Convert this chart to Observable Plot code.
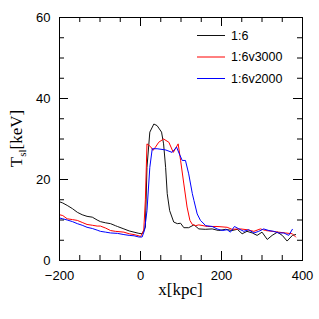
<!DOCTYPE html>
<html>
<head>
<meta charset="utf-8">
<script src="https://cdn.jsdelivr.net/npm/d3@7"></script>
<script src="https://cdn.jsdelivr.net/npm/@observablehq/plot@0.6"></script>
<style>
  html, body { margin: 0; padding: 0; background: white; }
  #chart { width: 319px; height: 319px; }
</style>
</head>
<body>
<div id="chart"></div>
<script>
// ---- data ----
const seriesNames = ["1:6", "1:6v3000", "1:6v2000"];
const seriesColors = ["#111111", "#ff0000", "#0000ff"];

const xBlack = [-200,-192,-181,-168,-156,-144,-132,-119,-107,-99,-86,-74,-62,-57,-41,-28,-16,-4,4,12,16,23,33,41,52,57,62,66,72,82,91,99,107,119,132,144,160,177,193,210,226,239,251,263,276,288,300,313,325,338,350,362,375,383];
const tBlack = [14.5,14.2,13.6,12.8,11.9,11.3,10.9,10.7,10.0,9.6,9.3,9.1,8.6,8.4,7.8,7.3,7.0,6.7,6.6,8.2,23,31.7,33.7,33.3,31.7,28.8,23,16.5,12.3,9.5,9.1,9.2,8.1,8.1,8.8,7.8,7.7,7.8,7.4,7.7,7.4,7.7,6.6,7.2,6.8,6.2,7.0,5.2,6.2,7.0,6.2,4.8,6.2,6.4];

const xRed = [-200,-192,-181,-168,-156,-144,-132,-119,-107,-99,-86,-74,-62,-41,-28,-16,-4,0,8,12,16,25,31,37,45,57,70,81,93,99,107,115,122,128,136,144,165,189,214,226,247,263,280,296,309,325,341,358,375,383];
const tRed = [11.3,11.1,10.3,10.1,9.9,9.4,8.9,8.7,8.5,8.5,8.0,7.4,7.2,7.0,6.6,6.4,6.1,5.9,7.4,15,28.8,28.1,27.2,28,29.2,30,29.2,26.7,28.8,24.7,18.9,13.2,9.9,8.9,8.6,8.8,8.4,8.4,8.2,7.7,7.8,7.6,7.2,7.8,7.4,7.2,7.0,6.8,6.6,5.8];

const xBlue = [-200,-192,-181,-168,-156,-144,-132,-119,-107,-99,-86,-74,-57,-41,-28,-16,-4,4,10,16,23,29,41,62,78,89,96,103,111,119,128,132,140,148,161,177,189,202,214,222,232,243,255,267,280,292,304,317,329,341,354,366,375];
const tBlue = [10.5,10.3,10.0,9.6,9.1,8.7,8.2,7.9,7.5,7.2,7.0,6.8,6.7,6.4,6.2,6.1,5.8,5.8,7.5,12.3,23,27.6,27.6,27.3,26.7,28,26.3,24.7,24.7,21.4,16.5,14.8,11.5,9.9,8.6,8.4,7.8,7.4,7.6,7.0,8.4,7.8,7.2,7.6,6.8,7.2,7.8,7.4,7.2,6.8,6.8,6.2,7.7];

const xMajorTicks = [-200, 0, 200, 400];
const xMinorTicks = [-150, -100, -50, 50, 100, 150, 250, 300, 350];
const yMajorTicks = [0, 20, 40, 60];
const yMinorTicks = [5, 10, 15, 25, 30, 35, 45, 50, 55];

const xLabel = "x[kpc]";
const yLabelMain = "T", yLabelSub = "sl", yLabelUnit = "[keV]";

// ---- build table ----
const toRows = (xs, ts) => xs.map((x, i) => ({x, T: ts[i]}));
const rowsBlack = toRows(xBlack, tBlack);
const rowsRed = toRows(xRed, tRed);
const rowsBlue = toRows(xBlue, tBlue);

const W = 319, H = 319, mL = 59, mR = 17, mT = 17, mB = 59;
const plotH = H - mT - mB, plotW = W - mL - mR;
const majorLen = 9, minorLen = 5;

const chart = Plot.plot({
  width: W, height: H,
  marginLeft: mL, marginRight: mR, marginTop: mT, marginBottom: mB,
  x: {domain: [-200, 400]},
  y: {domain: [0, 60]},
  style: {fontFamily: "'Liberation Sans', Arial, sans-serif", fontSize: "13px", background: "white", color: "black"},
  marks: [
    Plot.line(rowsBlack, {x: "x", y: "T", stroke: seriesColors[0], strokeWidth: 1}),
    Plot.line(rowsRed, {x: "x", y: "T", stroke: seriesColors[1], strokeWidth: 1}),
    Plot.line(rowsBlue, {x: "x", y: "T", stroke: seriesColors[2], strokeWidth: 1}),
    // inward ticks
    Plot.tickX(xMajorTicks, {x: d => d, insetTop: plotH - majorLen, stroke: "black"}),
    Plot.tickX(xMajorTicks, {x: d => d, insetBottom: plotH - majorLen, stroke: "black"}),
    Plot.tickX(xMinorTicks, {x: d => d, insetTop: plotH - minorLen, stroke: "black"}),
    Plot.tickX(xMinorTicks, {x: d => d, insetBottom: plotH - minorLen, stroke: "black"}),
    Plot.tickY(yMajorTicks, {y: d => d, insetRight: plotW - majorLen, stroke: "black"}),
    Plot.tickY(yMajorTicks, {y: d => d, insetLeft: plotW - majorLen, stroke: "black"}),
    Plot.tickY(yMinorTicks, {y: d => d, insetRight: plotW - minorLen, stroke: "black"}),
    Plot.tickY(yMinorTicks, {y: d => d, insetLeft: plotW - minorLen, stroke: "black"}),
    Plot.axisX({ticks: xMajorTicks, tickSize: 0, tickPadding: 10, label: null, fontSize: 13}),
    Plot.axisY({ticks: yMajorTicks, tickSize: 0, tickPadding: 9, label: null, fontSize: 13}),
    Plot.frame({stroke: "black"})
  ]
});

document.getElementById("chart").appendChild(chart);

const svg = d3.select(chart);
const serif = "'Liberation Serif', 'Times New Roman', serif";

// x label
svg.append("text")
  .attr("x", mL + plotW / 2).attr("y", 295)
  .attr("text-anchor", "middle")
  .attr("font-family", serif).attr("font-size", 17).attr("fill", "black")
  .text(xLabel);

// y label with subscript
const yl = svg.append("text")
  .attr("transform", `translate(22,${mT + plotH / 2}) rotate(-90)`)
  .attr("text-anchor", "middle")
  .attr("font-family", serif).attr("font-size", 17).attr("fill", "black");
yl.append("tspan").text(yLabelMain);
yl.append("tspan").attr("font-size", 11).attr("dy", 4).text(yLabelSub);
yl.append("tspan").attr("dy", -4).text(yLabelUnit);

// legend
const lg = svg.append("g");
seriesNames.forEach((name, i) => {
  const y = 35.5 + i * 21.5;
  lg.append("line").attr("x1", 197).attr("x2", 225).attr("y1", y).attr("y2", y)
    .attr("stroke", seriesColors[i]).attr("stroke-width", 1);
  lg.append("text").attr("x", 231).attr("y", y).attr("dy", "0.35em")
    .attr("text-anchor", "start")
    .attr("font-family", "'Liberation Sans', Arial, sans-serif").attr("font-size", 12.5)
    .attr("fill", "black").text(name);
});
</script>
</body>
</html>
